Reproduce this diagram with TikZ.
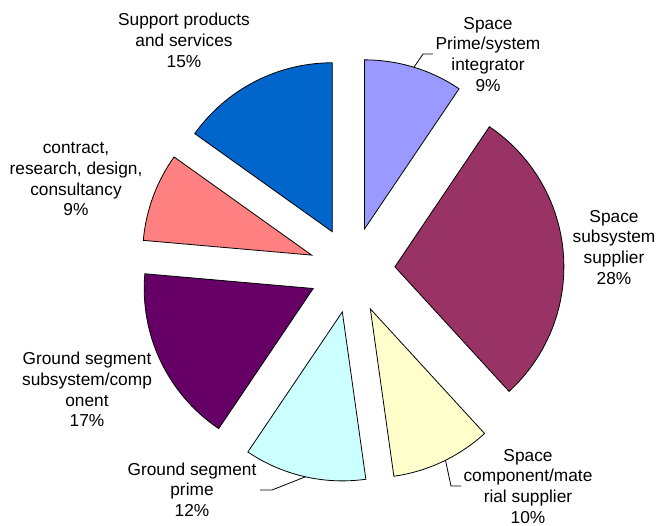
\documentclass[tikz,border=0pt]{standalone}
\usepackage{fontspec}
\setmainfont{Liberation Sans}
\definecolor{cLav}{HTML}{9999FF}
\definecolor{cMar}{HTML}{993366}
\definecolor{cYel}{HTML}{FFFFCC}
\definecolor{cCya}{HTML}{CCFFFF}
\definecolor{cPur}{HTML}{660066}
\definecolor{cPnk}{HTML}{FF8080}
\definecolor{cBlu}{HTML}{0066CC}
\newcommand\pieslice[4]{% name, start, end, colour
  \pgfmathsetmacro\midang{(#2+#3)/2}
  \path (C) ++(\midang:\D) coordinate (#1);
  \filldraw[slice, fill=#4] (#1) -- ++(#2:\R) arc[start angle=#2, end angle=#3, radius=\R] -- cycle;
}
\begin{document}
\begin{tikzpicture}[x=1pt,y=1pt,
  slice/.style={draw=black, line width=0.8pt, line join=miter},
  lbl/.style={align=center, font=\fontsize{17.3}{20.7}\selectfont, inner sep=0pt, text=black},
  leader/.style={draw=black, line width=0.8pt}]
\useasboundingbox (0,0) rectangle (658,526);
\coordinate (C) at (352,256);
\def\R{169}
\def\D{43}
\pieslice{apA}{90}{56}{cLav}
\pieslice{apB}{56}{-47.5}{cMar}
\pieslice{apC}{-47.5}{-82}{cYel}
\pieslice{apD}{-82}{-124}{cCya}
\pieslice{apE}{-124}{-185}{cPur}
\pieslice{apF}{-185}{-215.5}{cPnk}
\pieslice{apG}{-215.5}{-270}{cBlu}
% labels
\node[lbl] (tG) at (184,485.7) {Support products\\and services\\15\%};
\node[lbl] (tA) at (488,471.75) {Space\\Prime/system\\integrator\\9\%};
\node[lbl] (tF) at (76,346.75) {contract,\\research, design,\\consultancy\\9\%};
\node[lbl] (tB) at (614,278.75) {Space\\subsystem\\supplier\\28\%};
\node[lbl] (tE) at (87,136.5) {Ground segment\\subsystem/comp\\onent\\17\%};
\node[lbl] (tD) at (192,36.3) {Ground segment\\prime\\12\%};
\node[lbl] (tC) at (528,39.75) {Space\\component/mate\\rial supplier\\10\%};
% leaders
\path (apA) ++(73:\R) coordinate (lA1);
\coordinate (lA2) at (423,472);
\coordinate (lA3) at (433,472);
\draw[leader] (lA1) -- (lA2) -- (lA3);
\path (apD) ++(-102.6:\R) coordinate (lD1);
\coordinate (lD2) at (272,36);
\coordinate (lD3) at (260,36);
\draw[leader] (lD1) -- (lD2) -- (lD3);
\path (apC) ++(-63.6:\R) coordinate (lC1);
\coordinate (lC2) at (451,40);
\coordinate (lC3) at (461,40);
\draw[leader] (lC1) -- (lC2) -- (lC3);
\end{tikzpicture}
\end{document}
